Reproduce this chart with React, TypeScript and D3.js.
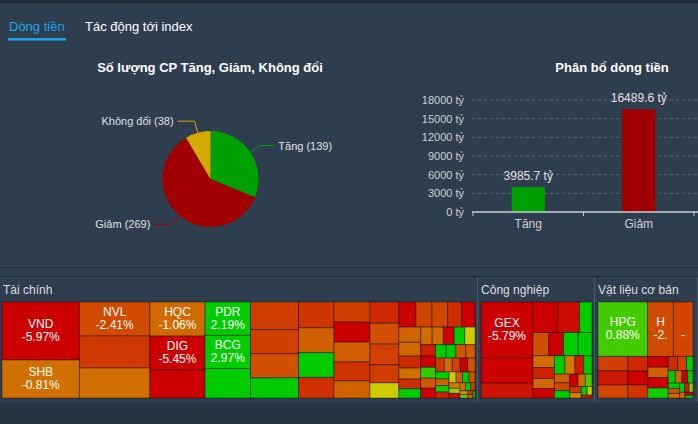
import { useEffect, useRef } from "react";
import * as d3 from "d3";

const W = 698;
const H = 424;

// Số lượng CP Tăng, Giảm, Không đổi
const pieLabels = ["Tăng", "Giảm", "Không đổi"];
const pieCounts = [139, 269, 38];
const pieColors = ["#00a000", "#a00000", "#d4aa00"];

// Phân bổ dòng tiền
const flowCategories = ["Tăng", "Giảm"];
const flowValues = [3985.7, 16489.6];
const flowColors = ["#00a000", "#a00000"];
const flowTicks = [0, 3000, 6000, 9000, 12000, 15000, 18000];

// treemap sectors
const sectorNames = ["Tài chính", "Công nghiệp", "Vật liệu cơ bản"];

const taiChinhTickers = ["VND", "SHB", "NVL", "", "", "HQC", "DIG", "", "PDR", "BCG"];
const taiChinhValues = [
  4466, 2926, 2380, 2240, 2100, 1870, 1860, 1540, 1510, 1500, 1330, 1320, 1152, 1150, 960,
  910, 875, 870, 725, 720, 715, 710, 680, 612, 609, 600, 595, 520, 435, 425, 400, 390, 350,
  335, 330, 300, 260, 240, 210, 200, 200, 195, 190, 185, 180, 170, 165, 160, 150, 145, 140,
  130, 130, 125, 120, 110, 110, 105, 100, 95, 90, 85, 80, 75, 70, 70, 65, 60, 55, 50, 45, 40,
  35, 30, 25, 20, 18, 15,
];
const taiChinhChanges = [
  -5.97, -0.81, -2.41, -3.0, -0.9, -1.06, -5.45, -6.2, 2.19, 2.97, 3.4, -2.9, -2.8, -2.2, 2.4,
  -3.1, -1.5, 1.8, -3.3, -2.8, -5.8, -1.6, -3.2, -1.4, -3.6, -2.2, -2.7, -2.9, 0, -6.0, -2.6,
  -2.5, -3.5, -5.2, -1.3, -1.2, -3.5, -0.9, -3.4, 2.5, -1.0, -0.95, -5.5, 3.0, 0, -4.0, -6.0,
  1.0, -1.8, -5.8, 3.2, 2.5, -1.9, -1.7, -3.0, -1.1, -2.6, -6.5, -2.0, 2.1, -1.4, 1.2, -3.8, 0,
  -1.6, 2.8, -2.2, -0.7, 0.3, -4.5, -1.0, 1.5, -2.7, -0.5, 0.6, -3.1, -1.3, 2.0,
];

const congNghiepTickers = ["GEX"];
const congNghiepValues = [
  3016, 1346, 808, 786, 687, 393, 380, 355, 355, 329, 264, 243, 222, 211, 201, 190, 169, 158,
  137, 127, 116, 106, 95, 84, 74, 63, 53, 42, 32,
];
const congNghiepChanges = [
  -5.79, -5.5, -4.3, -5.6, -4.6, 2.5, -2.2, -5.5, 3.0, 2.8, -0.9, -3.8, -1.2, -5.5, 2.0, -0.7,
  -4.0, 1.5, -1.5, -2.5, 2.2, -5.0, -1.0, 0.8, -3.0, -0.6, 2.5, 0, -4.2,
];

const vatLieuTickers = ["HPG", "HSG", "NKG"];
const vatLieuValues = [
  2878, 1499, 1139, 458, 447, 414, 316, 294, 283, 234, 229, 224, 218, 142, 136, 98, 93, 87, 76,
  71, 65, 60, 55, 49, 44, 38, 33, 27, 22,
];
const vatLieuChanges = [
  0.88, -2.35, -2.6, -2.8, -4.2, -2.5, -3.6, -5.5, -3.2, -5.6, -1.5, -5.2, 1.2, -3.5, -2.8, 1.5,
  2.2, -1.0, -5.5, 1.8, 2.6, -2.0, -0.8, 3.0, -4.0, 0.4, -1.2, -6.0, 2.0,
];

const FONT = "'Liberation Sans', Arial, Helvetica, sans-serif";

const App = () => {
  const ref = useRef(null);

  useEffect(() => {
    const svg = d3.select(ref.current);
    svg.selectAll("*").remove();
    svg.attr("width", W).attr("height", H).style("font-family", FONT);

    // page background
    svg.append("rect").attr("width", W).attr("height", H).attr("fill", "#2e3e4f");
    svg.append("rect").attr("width", W).attr("height", 3).attr("fill", "#1f2a36");
    svg.append("rect").attr("y", 403).attr("width", W).attr("height", H - 403).attr("fill", "#263340");
    [267.5, 276.5].forEach((yy) => {
      svg.append("line").attr("x1", 0).attr("x2", W).attr("y1", yy).attr("y2", yy)
        .attr("stroke", "#1f2b37").attr("stroke-width", 1);
    });

    // tabs
    svg.append("text").attr("x", 9).attr("y", 31).attr("fill", "#1ea5e9")
      .style("font-size", "13px").text("Dòng tiền");
    svg.append("rect").attr("x", 8).attr("y", 38).attr("width", 58).attr("height", 2.5)
      .attr("fill", "#1ea5e9");
    svg.append("text").attr("x", 85).attr("y", 31).attr("fill", "#ffffff")
      .style("font-size", "13px").text("Tác động tới index");

    // ---- pie ----
    svg.append("text").attr("x", 210).attr("y", 72).attr("text-anchor", "middle")
      .attr("fill", "#ffffff").attr("font-weight", "bold").style("font-size", "13px")
      .text("Số lượng CP Tăng, Giảm, Không đổi");

    const cx = 210.5, cy = 179, R = 48;
    const pie = d3.pie().sort(null).value((d) => d);
    const arcs = pie(pieCounts);
    const arc = d3.arc().innerRadius(0).outerRadius(R);
    const pg = svg.append("g").attr("transform", `translate(${cx},${cy})`);
    pg.selectAll("path").data(arcs).join("path")
      // @ts-ignore
      .attr("d", arc)
      .attr("fill", (d, i) => pieColors[i]);

    arcs.forEach((a, i) => {
      const mid = (a.startAngle + a.endAngle) / 2;
      const p0 = [Math.sin(mid) * R, -Math.cos(mid) * R];
      const p1 = [Math.sin(mid) * (R + 12), -Math.cos(mid) * (R + 12)];
      const right = Math.sin(mid) > 0;
      const p2 = [p1[0] + (right ? 14 : -17), p1[1]];
      pg.append("polyline")
        .attr("points", [p0, p1, p2].map((p) => p.join(",")).join(" "))
        .attr("fill", "none").attr("stroke", pieColors[i]).attr("stroke-width", 1);
      pg.append("text")
        .attr("x", p2[0] + (right ? 4 : -4)).attr("y", p2[1] + 4)
        .attr("text-anchor", right ? "start" : "end")
        .attr("fill", "#e0e0e0").style("font-size", "11px")
        .text(`${pieLabels[i]} (${pieCounts[i]})`);
    });

    // ---- bar ----
    svg.append("text").attr("x", 612).attr("y", 72).attr("text-anchor", "middle")
      .attr("fill", "#ffffff").attr("font-weight", "bold").style("font-size", "13px")
      .text("Phân bổ dòng tiền");

    const x = d3.scaleBand().domain(flowCategories).range([473, 694])
      .paddingInner(0.7).paddingOuter(0.35);
    const y = d3.scaleLinear().domain([0, 18000]).range([212, 100]);

    flowTicks.forEach((t) => {
      if (t > 0) {
        svg.append("line").attr("x1", 472).attr("x2", W).attr("y1", y(t)).attr("y2", y(t))
          .attr("stroke", "#56657a").attr("stroke-dasharray", "3,3").attr("stroke-width", 1);
      }
    });

    svg.append("g").attr("transform", "translate(464,0)")
      .call(d3.axisLeft(y).tickValues(flowTicks).tickSize(0).tickFormat((d) => `${d} tỷ`))
      .call((g) => g.select(".domain").remove())
      .call((g) => g.selectAll("text").attr("fill", "#d0d0d0").attr("x", 0)
        .style("font-size", "11px").style("font-family", FONT));

    svg.selectAll(".bar").data(flowValues).join("rect").attr("class", "bar")
      .attr("x", (d, i) => x(flowCategories[i]))
      .attr("y", (d) => y(d))
      .attr("width", x.bandwidth())
      .attr("height", (d) => y(0) - y(d))
      .attr("fill", (d, i) => flowColors[i]);

    svg.selectAll(".barlabel").data(flowValues).join("text").attr("class", "barlabel")
      .attr("x", (d, i) => x(flowCategories[i]) + x.bandwidth() / 2)
      .attr("y", (d) => y(d) - 7)
      .attr("text-anchor", "middle").attr("fill", "#e0e0e0").style("font-size", "12px")
      .text((d) => `${d} tỷ`);

    svg.append("line").attr("x1", 472).attr("x2", W).attr("y1", y(0)).attr("y2", y(0))
      .attr("stroke", "#c8ccd2").attr("stroke-width", 1.5);
    const step = x.step();
    const tickXs = [x(flowCategories[0]) + x.bandwidth() / 2 - step / 2]
      .concat(flowCategories.map((c) => x(c) + x.bandwidth() / 2 + step / 2));
    tickXs.forEach((tx) => {
      svg.append("line").attr("x1", tx).attr("x2", tx).attr("y1", y(0)).attr("y2", y(0) + 4)
        .attr("stroke", "#c8ccd2").attr("stroke-width", 1);
    });
    flowCategories.forEach((c) => {
      svg.append("text").attr("x", x(c) + x.bandwidth() / 2).attr("y", 228)
        .attr("text-anchor", "middle").attr("fill", "#d0d0d0").style("font-size", "12px").text(c);
    });

    // ---- treemap ----
    const sectors = [
      { tickers: taiChinhTickers, values: taiChinhValues, changes: taiChinhChanges },
      { tickers: congNghiepTickers, values: congNghiepValues, changes: congNghiepChanges },
      { tickers: vatLieuTickers, values: vatLieuValues, changes: vatLieuChanges },
    ];
    const data = {
      name: "root",
      children: sectors.map((s, si) => ({
        name: sectorNames[si],
        children: s.values.map((v, i) => ({
          ticker: s.tickers[i] || "",
          value: v,
          change: s.changes[i],
        })),
      })),
    };
    const root = d3.hierarchy(data)
      // @ts-ignore
      .sum((d) => (d.children ? 0 : d.value))
      .sort((a, b) => b.value - a.value);
    d3.treemap().size([W, 123]).tile(d3.treemapSquarify)
      .paddingTop((d) => (d.depth === 1 ? 25 : 0))
      .paddingLeft((d) => (d.depth === 1 ? (d.x0 < 1 ? 2 : 3) : 0))
      .paddingRight((d) => (d.depth === 1 ? (d.x1 > W - 2 ? 5 : 3) : 0))
      .paddingBottom((d) => (d.depth === 1 ? 2 : 0))(root);

    const color = d3.scaleLinear()
      .domain([-5, -2.4, -0.8, 0, 1.3])
      // @ts-ignore
      .range(["#cc0000", "#d04a00", "#d07000", "#cccc00", "#00cc00"])
      .clamp(true);

    const ctx = document.createElement("canvas").getContext("2d");
    ctx.font = `12px ${FONT}`;
    const fit = (s, w) => {
      let out = s;
      while (out.length && ctx.measureText(out).width > w) out = out.slice(0, -1);
      return out;
    };

    const tg = svg.append("g").attr("transform", "translate(0,277)");
    root.children.forEach((sec) => {
      tg.append("line").attr("x1", sec.x1 - 0.5).attr("x2", sec.x1 - 0.5)
        .attr("y1", sec.y0).attr("y2", sec.y1 + 1)
        .attr("stroke", "#4a5a6b").attr("stroke-width", 1);
      tg.append("text").attr("x", sec.x0 + 3).attr("y", sec.y0 + 17)
        .attr("fill", "#dddddd").style("font-size", "12px")
        // @ts-ignore
        .text(sec.data.name);
    });

    const leaves = root.leaves();
    tg.selectAll(".cell").data(leaves).join("rect").attr("class", "cell")
      .attr("x", (d) => d.x0).attr("y", (d) => d.y0)
      .attr("width", (d) => d.x1 - d.x0).attr("height", (d) => d.y1 - d.y0)
      // @ts-ignore
      .attr("fill", (d) => color(d.data.change))
      .attr("stroke", "rgba(0,0,0,0.38)").attr("stroke-width", 1);

    leaves.forEach((d) => {
      // @ts-ignore
      const { ticker, change } = d.data;
      if (!ticker) return;
      const w = d.x1 - d.x0 - 11;
      const mx = (d.x0 + d.x1) / 2;
      const my = (d.y0 + d.y1) / 2;
      const pct = `${change.toFixed(2)}%`;
      [fit(ticker, w), fit(pct, w)].forEach((t, k) => {
        tg.append("text").attr("x", mx).attr("y", my - 3 + k * 13)
          .attr("text-anchor", "middle").attr("fill", "#ffffff").style("font-size", "12px")
          .text(t);
      });
    });
  }, []);

  return (
    <div style={{ position: "absolute", left: 0, top: 0, width: W, height: H }}>
      <svg ref={ref}></svg>
    </div>
  );
};

export default App;
